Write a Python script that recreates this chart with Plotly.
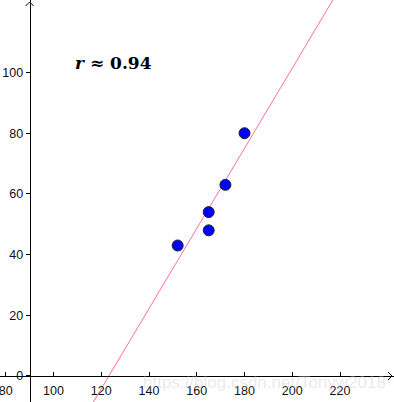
import numpy as np
import plotly.graph_objects as go

# Data
heights = [152, 165, 165, 172, 180]
weights = [43, 54, 48, 63, 80]
x_ticks = [80, 100, 120, 140, 160, 180, 200, 220]
y_ticks = [0, 20, 40, 60, 80, 100]
r_label = "r ≈ 0.94"

X_RANGE = [77.6, 242.6]
Y_RANGE = [-8.57, 123.9]
Y_AXIS_AT = 90

hx = np.array(heights, dtype=float)
wy = np.array(weights, dtype=float)
slope, intercept = np.polyfit(hx, wy, 1)
lx = np.array(X_RANGE)
ly = slope * lx + intercept

fig = go.Figure()
fig.add_trace(go.Scatter(x=lx, y=ly, mode="lines",
                         line=dict(color="rgb(255,110,160)", width=1),
                         hoverinfo="skip", showlegend=False))
fig.add_trace(go.Scatter(x=heights, y=weights, mode="markers",
                         marker=dict(color="#0000FF", size=11,
                                     line=dict(color="#222222", width=1)),
                         showlegend=False))

ypos = (0 - Y_RANGE[0]) / (Y_RANGE[1] - Y_RANGE[0])
xpos = (Y_AXIS_AT - X_RANGE[0]) / (X_RANGE[1] - X_RANGE[0])

tickfont = dict(family="Liberation Sans, Arial, sans-serif", size=12.5, color="#111111")

fig.update_layout(
    width=394, height=402,
    margin=dict(l=0, r=0, t=0, b=0),
    paper_bgcolor="white", plot_bgcolor="white",
    xaxis=dict(range=X_RANGE, anchor="free", position=ypos,
               showgrid=False, zeroline=False, showline=True,
               linecolor="black", linewidth=1,
               ticks="inside", ticklen=4, tickcolor="black",
               tickvals=x_ticks, ticktext=[str(v) for v in x_ticks],
               tickfont=tickfont, ticklabeloverflow="allow",
               ticklabelstandoff=3),
    yaxis=dict(range=Y_RANGE, anchor="free", position=xpos,
               showgrid=False, zeroline=False, showline=True,
               linecolor="black", linewidth=1,
               ticks="outside", ticklen=4, tickcolor="black",
               tickvals=y_ticks, ticktext=[str(v) for v in y_ticks],
               tickfont=tickfont, ticklabeloverflow="allow"),
)

# arrowheads
dxp = 4 / 394
dyp = 4 / 402
top = 1 - 2 / 402
fig.add_shape(type="path", xref="paper", yref="paper",
              path=f"M {xpos-dxp} {top-dyp} L {xpos} {top} L {xpos+dxp} {top-dyp}",
              line=dict(color="black", width=1))
right = 1 - 2 / 394
fig.add_shape(type="path", xref="paper", yref="paper",
              path=f"M {right-dxp} {ypos+dyp} L {right} {ypos} L {right-dxp} {ypos-dyp}",
              line=dict(color="black", width=1))

fig.add_annotation(text="<b><i>r</i> ≈ 0.94</b>", xref="paper", yref="paper",
                   x=113 / 394, y=1 - 63 / 402, showarrow=False,
                   xanchor="center", yanchor="middle",
                   font=dict(family="DejaVu Serif, Liberation Serif, serif", size=17, color="black"))

fig.add_annotation(text="https://blog.csdn.net/Tonyw2018", xref="paper", yref="paper",
                   x=264 / 394, y=1 - 382 / 402, showarrow=False,
                   xanchor="center", yanchor="middle",
                   font=dict(family="Liberation Sans, Arial, sans-serif", size=17,
                             color="rgba(200,200,200,0.4)"))

fig.write_html("out.html")
